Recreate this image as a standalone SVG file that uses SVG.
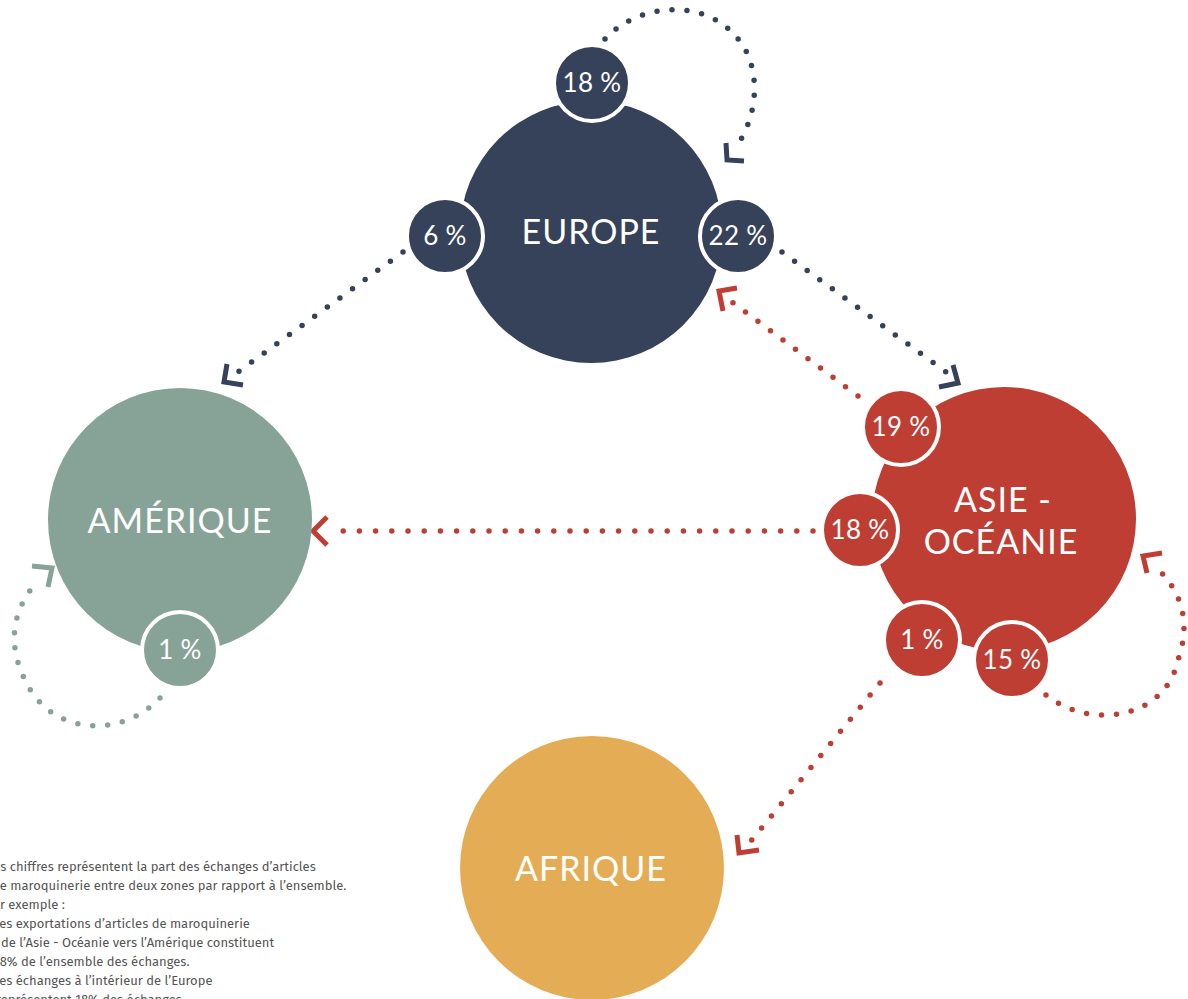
<svg xmlns="http://www.w3.org/2000/svg" width="1188" height="999" viewBox="0 0 1188 999">
<style>
.big{stroke:none}
.eu{fill:#36425a}
.as{fill:#bf3e33}
.am{fill:#87a398}
.af{fill:#e4ad55}
.pc{stroke:#fff;stroke-width:4}
.lbl{font-family:Lato,"Open Sans",sans-serif;fill:#fff;text-anchor:middle;letter-spacing:1px}
.zone{font-size:34px}
.pct{font-size:26px;letter-spacing:0.3px}
.dot{fill:none;stroke-width:5.5;stroke-linecap:round}
.head{fill:none;stroke-width:5;stroke-linecap:butt;stroke-linejoin:miter}
.s-eu{stroke:#36425a}
.s-as{stroke:#bf3e33}
.s-am{stroke:#87a398}
.note{font-family:"Fira Sans","Open Sans",sans-serif;font-size:13px;fill:#555}
</style>
<rect width="1188" height="999" fill="#fff"/>
<g id="connectors">
  <path class="dot s-eu" stroke-dasharray="0 15" d="M605,39 C640,0 720,-5 748,55 C760,85 755,120 735,149"/>
  <polyline class="head s-eu" points="726,143 727,160 744,161"/>
  <path class="dot s-eu" stroke-dasharray="0 15.6" d="M403,252 L238,372"/>
  <polyline class="head s-eu" points="227,364 224,382 243,385"/>
  <path class="dot s-eu" stroke-dasharray="0 15.6" d="M782,252 L946,372"/>
  <polyline class="head s-eu" points="953,365 958,383 939,387"/>
  <path class="dot s-as" stroke-dasharray="0 15.6" d="M858,396 L732,302"/>
  <polyline class="head s-as" points="737,288 719,291 723,311"/>
  <path class="dot s-as" stroke-dasharray="0 16.2" d="M813,531 L327,531"/>
  <polyline class="head s-as" points="327,517 313,531 327,545"/>
  <path class="dot s-as" stroke-dasharray="0 15.6" d="M880,683 L751,841"/>
  <polyline class="head s-as" points="737,835 739,853 759,850"/>
  <path class="dot s-as" stroke-dasharray="0 15" d="M1046,695 C1090,730 1165,720 1178,660 C1192,620 1180,590 1156,567"/>
  <polyline class="head s-as" points="1162,553 1143,556 1147,573"/>
  <path class="dot s-am" stroke-dasharray="0 15" d="M160,698 C120,740 50,735 25,680 C5,640 15,605 39,580"/>
  <polyline class="head s-am" points="32,566 52,568 48,587"/>
</g>
<g id="europe">
  <circle class="big eu" cx="591" cy="232" r="131"/>
  <text class="lbl zone" x="591" y="244">EUROPE</text>
</g>
<g id="amerique">
  <circle class="big am" cx="180" cy="520" r="132"/>
  <text class="lbl zone" x="180" y="533">AMÉRIQUE</text>
</g>
<g id="asie">
  <circle class="big as" cx="1004" cy="519" r="132"/>
  <text class="lbl zone" x="1003" y="512">ASIE -</text>
  <text class="lbl zone" x="1001" y="554">OCÉANIE</text>
</g>
<g id="afrique">
  <circle class="big af" cx="592" cy="868" r="132"/>
  <text class="lbl zone" x="591" y="881">AFRIQUE</text>
</g>
<g id="eu-eu">
  <circle class="pc eu" cx="592" cy="83" r="38"/>
  <text class="lbl pct" x="592" y="92">18 %</text>
</g>
<g id="eu-am">
  <circle class="pc eu" cx="445" cy="236" r="38"/>
  <text class="lbl pct" x="445" y="245">6 %</text>
</g>
<g id="eu-as">
  <circle class="pc eu" cx="738" cy="236" r="38"/>
  <text class="lbl pct" x="738" y="245">22 %</text>
</g>
<g id="as-eu">
  <circle class="pc as" cx="901" cy="427" r="38"/>
  <text class="lbl pct" x="901" y="436">19 %</text>
</g>
<g id="as-am">
  <circle class="pc as" cx="860" cy="530" r="38"/>
  <text class="lbl pct" x="860" y="539">18 %</text>
</g>
<g id="as-af">
  <circle class="pc as" cx="922" cy="640" r="38"/>
  <text class="lbl pct" x="922" y="649">1 %</text>
</g>
<g id="as-as">
  <circle class="pc as" cx="1012" cy="660" r="38"/>
  <text class="lbl pct" x="1012" y="669">15 %</text>
</g>
<g id="am-am">
  <circle class="pc am" cx="180" cy="650" r="38"/>
  <text class="lbl pct" x="180" y="659">1 %</text>
</g>
<g id="note">
  <text class="note" x="-13" y="871">Les chiffres représentent la part des échanges d’articles</text>
  <text class="note" x="-8" y="890">de maroquinerie entre deux zones par rapport à l’ensemble.</text>
  <text class="note" x="-14" y="909">Par exemple :</text>
  <text class="note" x="-7" y="928">Les exportations d’articles de maroquinerie</text>
  <text class="note" x="1" y="947">de l’Asie - Océanie vers l’Amérique constituent</text>
  <text class="note" x="-6" y="966">18% de l’ensemble des échanges.</text>
  <text class="note" x="-7" y="985">Les échanges à l’intérieur de l’Europe</text>
  <text class="note" x="-4" y="1004">représentent 18% des échanges.</text>
</g>
</svg>
